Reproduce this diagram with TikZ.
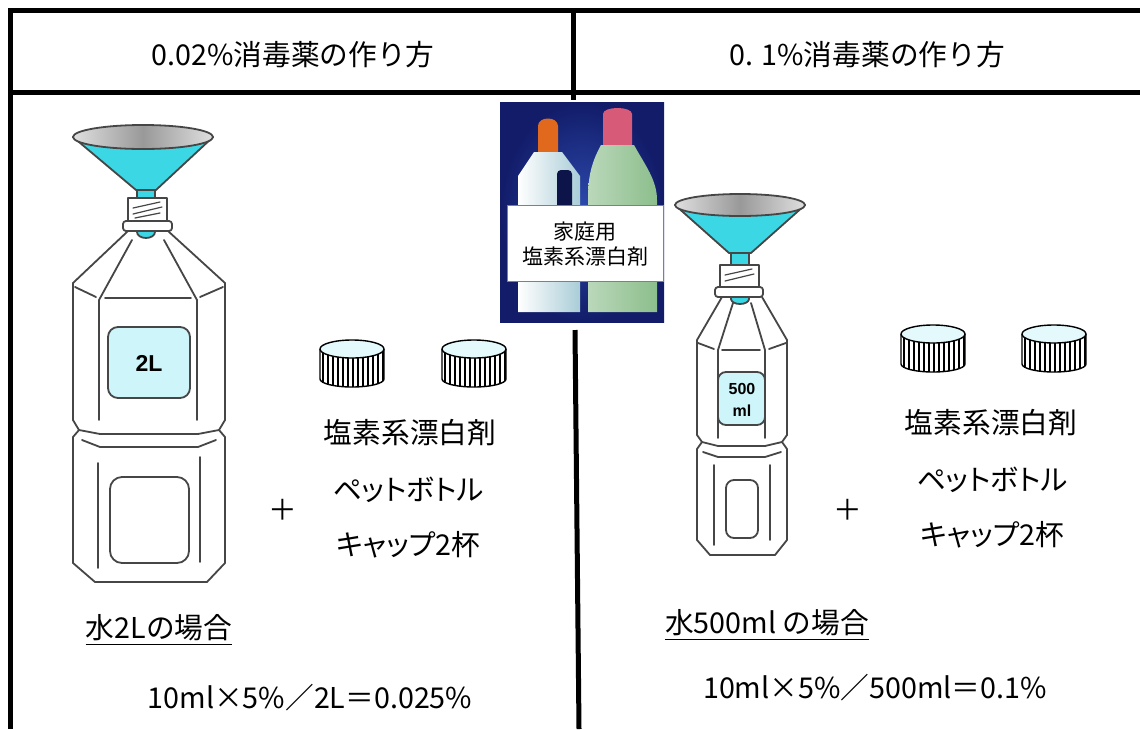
\documentclass[tikz,border=0pt]{standalone}
\usepackage{fontspec}
\setmainfont{Noto Sans CJK JP}
\newfontfamily\kanafont{Noto Sans CJK JP}[RawFeature=+palt]
\newfontfamily\tagfont{Liberation Sans}
\usepackage{tikz}
\usetikzlibrary{calc,positioning}
\definecolor{funnelcyan}{RGB}{60,215,228}
\definecolor{tagcyan}{RGB}{205,245,250}
\definecolor{capcyan}{RGB}{228,249,251}
\definecolor{outline}{RGB}{70,70,70}
\definecolor{navy}{RGB}{18,28,105}
\definecolor{capred}{RGB}{225,105,30}
\definecolor{cappink}{RGB}{215,90,120}
\definecolor{bleachblue}{RGB}{170,205,215}
\definecolor{bleachgreen}{RGB}{140,190,140}

\begin{document}
\begin{tikzpicture}[x=1pt,y=-1pt,
    frame/.style={line width=5pt},
    bottle/.style={draw=outline,line width=1.8pt,line join=round,line cap=round},
    txt/.style={inner sep=0pt,font=\fontsize{28.7}{34}\selectfont},
    kana/.style={inner sep=0pt,font=\kanafont\fontsize{28.7}{34}\selectfont},
    small/.style={inner sep=0pt,font=\fontsize{21}{25}\selectfont},
    uline/.style={line width=1.6pt},
    bleachcap/.pic={
        \begin{scope}
            \clip (-32,0) -- (-32,30) arc[start angle=180,end angle=0,x radius=32,y radius=8] -- (32,0) -- cycle;
            \fill[white] (-32,0) rectangle (32,40);
            \foreach \s in {-29,-24,...,31} \draw[line width=2.5pt] (\s,0) -- (\s,40);
        \end{scope}
        \draw[line width=1.4pt] (-32,0) -- (-32,30) arc[start angle=180,end angle=0,x radius=32,y radius=8] -- (32,0);
        \draw[line width=1.4pt,fill=capcyan] (0,0) ellipse[x radius=32,y radius=9];
    }]
    \useasboundingbox (0,0) rectangle (1140,729);
    \draw[frame] (8,10) -- (1140,10);
    \draw[frame] (8,92) -- (1140,92);
    \draw[frame] (10,8) -- (10,729);
    \draw[frame] (573,10) -- (573,100);
    \draw[frame] (575,330) -- (579,729);
    \node[txt] (titleL) at (293,55) {0.02\%消毒薬の作り方};
    \node[txt] (titleR) at (867,55) {0. 1\%消毒薬の作り方};

    \shade[inner color={rgb,255:red,45;green,75;blue,175},outer color=navy] (500,102) rectangle (664,322);
    \fill[capred] (538,152) -- (538,126) .. controls (538,116) and (558,116) .. (558,126) -- (558,152) -- cycle;
    \shade[left color=white,right color=bleachblue] (534,152) -- (518,176) -- (518,312) -- (580,312) -- (580,176) -- (562,152) -- cycle;
    \fill[navy!70!black,rounded corners=4pt] (557,170) rectangle (572,212);
    \fill[cappink] (603,145) -- (603,114) .. controls (603,106) and (632,106) .. (632,114) -- (632,145) -- cycle;
    \shade[left color=bleachgreen!60!white,right color=bleachgreen] (601,145) .. controls (590,165) and (588,180) .. (588,200) -- (588,312) -- (657,312) -- (657,200) .. controls (657,180) and (645,165) .. (634,145) -- cycle;
    \filldraw[fill=white,draw=gray] (507,205) rectangle (663,281);
    \node[small] (homeuse) at (585,232) {家庭用};
    \node[small] (bleach) at (585,257) {塩素系漂白剤};

    \filldraw[bottle,fill=white] (128,231) -- (73,283) -- (73,420) -- (79,430) -- (73,437) -- (73,563) -- (95,582) -- (207,582) -- (225,563) -- (225,437) -- (219,430) -- (225,420) -- (225,283) -- (168,231);
    \draw[bottle] (79,430) -- (100,434) -- (198,434) -- (219,430);
    \draw[bottle] (82,440) -- (100,447) -- (198,447) -- (216,440);
    \draw[bottle] (132,240) -- (99,300) -- (99,420);
    \draw[bottle] (164,240) -- (197,300) -- (197,420);
    \draw[bottle] (75,287) -- (96,297);
    \draw[bottle] (223,287) -- (200,297);
    \draw[bottle] (105,298) -- (191,298);
    \draw[bottle] (98,463) -- (98,568);
    \draw[bottle] (200,457) -- (200,562);
    \draw[bottle,rounded corners=12pt] (110,477) rectangle (189,563);
    \filldraw[bottle,fill=tagcyan,rounded corners=10pt] (108,327) rectangle (190,398);
    \node[font=\tagfont\bfseries\fontsize{23}{27}\selectfont] (sizeL) at (149,363) {2L};
    \filldraw[bottle,fill=funnelcyan] (137,185) -- (137,232) arc[start angle=180,end angle=0,x radius=9,y radius=6] -- (155,232) -- (155,185) -- cycle;
    \filldraw[bottle,fill=white] (128,198) rectangle (167,221);
    \draw[bottle,line width=1.2pt] (133,208) -- (160,202);
    \draw[bottle,line width=1.2pt] (133,214) -- (162,207);
    \draw[bottle,line width=1.2pt] (135,218) -- (160,213);
    \filldraw[bottle,fill=white,rounded corners=3pt] (123,221) rectangle (172,231);
    \filldraw[bottle,fill=funnelcyan] (73,137) -- (136,190) -- (156,190) -- (213,137) -- cycle;
    \shade[left color=gray!25,right color=gray!25,middle color=gray!80] (143,137) ellipse[x radius=70,y radius=12];
    \draw[bottle] (143,137) ellipse[x radius=70,y radius=12];

    \pic (capL1) at (352,349) {bleachcap};
    \pic (capL2) at (474,349) {bleachcap};
    \node[txt] (agentL) at (410,433) {塩素系漂白剤};
    \node[kana] (petL) at (408,490) {ペットボトル};
    \node[kana] (cupL) at (408,545) {キャップ2杯};
    \node[txt] (plusL) at (283,510) {＋};
    \node[txt] (caseL) at (159,628) {水2Lの場合};
    \draw[uline] ([yshift=-3pt]caseL.south west) -- ([yshift=-3pt]caseL.south east);
    \node[txt] (calcL) at (310,698) {10ml×5\%／2L＝0.025\%};

    \filldraw[bottle,fill=white] (722,297) -- (697,340) -- (697,435) -- (702,442) -- (697,449) -- (697,540) -- (710,555) -- (775,555) -- (787,540) -- (787,449) -- (782,442) -- (787,435) -- (787,340) -- (762,297);
    \draw[bottle] (702,442) -- (718,446) -- (765,446) -- (782,442);
    \draw[bottle] (703,452) -- (718,457) -- (765,457) -- (781,452);
    \draw[bottle] (733,303) -- (718,350) -- (718,438);
    \draw[bottle] (751,303) -- (765,350) -- (765,438);
    \draw[bottle] (698,343) -- (714,349);
    \draw[bottle] (786,343) -- (769,349);
    \draw[bottle] (722,350) -- (760,350);
    \draw[bottle] (714,465) -- (714,545);
    \draw[bottle] (770,465) -- (770,540);
    \draw[bottle,rounded corners=8pt] (726,480) rectangle (758,538);
    \filldraw[bottle,fill=tagcyan,rounded corners=8pt] (718,372) rectangle (765,425);
    \node[font=\tagfont\bfseries\fontsize{16}{22}\selectfont,align=center] (sizeR) at (742,400) {500\\ml};
    \filldraw[bottle,fill=funnelcyan] (731,250) -- (731,299) arc[start angle=180,end angle=0,x radius=9,y radius=5] -- (749,299) -- (749,250) -- cycle;
    \filldraw[bottle,fill=white] (720,265) rectangle (759,287);
    \draw[bottle,line width=1.2pt] (725,275) -- (752,269);
    \draw[bottle,line width=1.2pt] (725,281) -- (754,274);
    \filldraw[bottle,fill=white,rounded corners=3pt] (715,287) rectangle (763,297);
    \filldraw[bottle,fill=funnelcyan] (675,205) -- (729,253) -- (751,253) -- (805,205) -- cycle;
    \shade[left color=gray!25,right color=gray!25,middle color=gray!80] (740,205) ellipse[x radius=65,y radius=11];
    \draw[bottle] (740,205) ellipse[x radius=65,y radius=11];

    \pic (capR1) at (933,334) {bleachcap};
    \pic (capR2) at (1054,334) {bleachcap};
    \node[txt] (agentR) at (991,423) {塩素系漂白剤};
    \node[kana] (petR) at (992,480) {ペットボトル};
    \node[kana] (cupR) at (992,535) {キャップ2杯};
    \node[txt] (plusR) at (848,510) {＋};
    \node[txt] (caseR) at (767,623) {水500ml の場合};
    \draw[uline] ([yshift=-3pt]caseR.south west) -- ([yshift=-3pt]caseR.south east);
    \node[txt] (calcR) at (875,688) {10ml×5\%／500ml＝0.1\%};
\end{tikzpicture}
\end{document}
